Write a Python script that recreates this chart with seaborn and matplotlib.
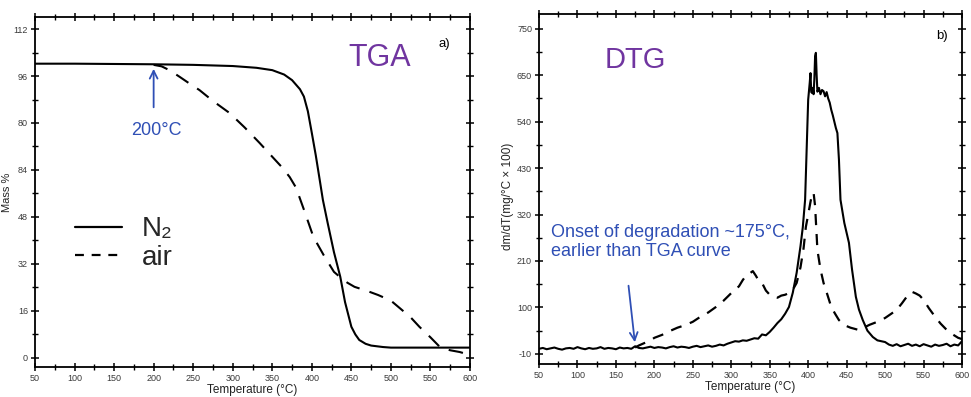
import numpy as np
import pandas as pd
import seaborn as sns
import matplotlib
matplotlib.use("Agg")
import matplotlib.pyplot as plt
from matplotlib.lines import Line2D

# ---------------- data ----------------
# TGA, N2 atmosphere (Temperature °C, mass %)
tga_n2_T = [50, 100, 150, 200, 250, 300, 330, 350, 365, 375, 385, 390, 395, 400, 405, 410, 414,
            420, 428, 436, 442, 450, 455, 460, 468, 475, 490, 500, 550, 600]
tga_n2_m = [100.2, 100.2, 100.1, 100.0, 99.8, 99.4, 98.8, 98.0, 96.5, 94.6, 91.5, 89.0, 84.0, 76.6,
            69.0, 60.6, 53.8, 46.0, 36.0, 27.6, 19.0, 10.6, 8.0, 6.1, 4.8, 4.2, 3.7, 3.5, 3.5, 3.5]
# TGA, air atmosphere
tga_air_T = [200, 210, 220, 233, 245, 258, 275, 296, 315, 334, 350, 362, 372, 380, 390, 402, 415,
             428, 437, 445, 454, 470, 484, 500, 511, 525, 536, 550, 562, 575, 587, 600]
tga_air_m = [99.8, 99.3, 98.0, 95.7, 93.5, 91.2, 87.5, 83.4, 78.5, 73.2, 68.5, 65.0, 61.6, 58.0,
             50.5, 41.2, 35.0, 29.3, 27.2, 25.6, 24.2, 22.8, 21.4, 19.5, 17.0, 13.8, 10.6, 7.0,
             3.7, 2.6, 2.0, 1.0]

# DTG, N2 atmosphere (dm/dT, mg/°C x 100)
dtg_n2_T = [50, 55, 60, 65, 70, 75, 80, 85, 90, 95, 100, 105, 110, 115, 120, 125, 130, 135, 140,
            145, 150, 155, 160, 165, 170, 175, 180, 185, 190, 195, 200, 205, 210, 215, 220, 225,
            230, 235, 240, 245, 250, 255, 260, 265, 270, 275, 280, 285, 290, 295, 300,
            305, 310, 315, 320, 325, 330, 335, 340, 345, 350, 355, 360, 365, 370, 375, 380, 385,
            390, 393, 396, 398, 400, 402, 403, 404, 405, 406, 407, 408, 409, 410, 411, 412, 414,
            416, 418, 420, 422, 424, 426, 428, 430, 432, 434, 436, 438, 440, 442, 447, 453, 457,
            462, 466, 471, 477, 484, 490, 500, 505, 510, 515, 520, 525, 530, 535, 540, 545, 550,
            555, 560, 565, 570, 575, 580, 585, 590, 595, 600]
dtg_n2_v = [2, 4, 1, 3, 5, 2, 0, 3, 4, 2, 6, 3, 1, 4, 2, 3, 6, 2, 4, 3, 1, 5, 3, 4, 2, 8, 4, 3,
            5, 7, 4, 6, 5, 3, 6, 8, 5, 7, 6, 4, 7, 9, 6, 8, 10, 7, 9, 12, 10, 14, 17,
            20, 19, 22, 21, 24, 27, 26, 36, 34, 42, 52, 63, 72, 85, 101, 135, 182,
            245, 290, 355, 470, 592, 632, 655, 610, 608, 620, 605, 640, 695, 703, 650, 611, 620,
            605, 615, 612, 600, 610, 595, 585, 568, 555, 540, 525, 513, 450, 355, 300, 253, 190,
            125, 95, 70, 45, 30, 22, 18, 12, 9, 13, 8, 11, 14, 9, 12, 8, 13, 10, 7, 12, 9,
            11, 14, 8, 12, 10, 20]
# DTG, air atmosphere
dtg_air_T = [175, 180, 185, 190, 195, 200, 210, 220, 230, 240, 250, 260, 270, 280, 290, 300, 310,
             315, 320, 325, 328, 332, 336, 340, 345, 350, 355, 360, 365, 370, 375, 380, 385, 390,
             394, 397, 400, 403, 405, 407, 409, 412, 416, 420, 425, 430, 435, 440, 447, 455, 465,
             472, 480, 490, 500, 508, 515, 522, 528, 532, 535, 540, 545, 550, 557, 565, 572, 580,
             588, 595, 600]
dtg_air_v = [5, 10, 14, 18, 22, 28, 35, 44, 52, 58, 66, 78, 88, 101, 116, 134, 150, 165, 177, 182,
             186, 175, 162, 158, 140, 130, 125, 123, 128, 130, 134, 142, 158, 195, 240, 291, 320,
             350, 368, 372, 340, 236, 190, 158, 130, 101, 85, 70, 58, 52, 47, 52, 59, 66, 75, 85,
             94, 110, 125, 132, 137, 133, 128, 118, 98, 78, 62, 47, 36, 28, 25]

x_ticks = [50, 100, 150, 200, 250, 300, 350, 400, 450, 500, 550, 600]
tga_yticks = [0, 16, 32, 48, 64, 80, 96, 112]
tga_yticklabels = ["0", "16", "32", "48", "84", "80", "96", "112"]
dtg_yticks = [-10, 100, 210, 320, 430, 540, 650, 760]
dtg_yticklabels = ["-10", "100", "210", "320", "430", "540", "650", "750"]

# ---------------- style ----------------
sns.set_theme(style="ticks")
plt.rcParams["font.family"] = ["Liberation Sans", "DejaVu Sans"]
plt.rcParams["axes.linewidth"] = 1.3

PURPLE = "#7035a0"
BLUE = "#2f4fb5"
TICKC = "#3a3a3a"

fig = plt.figure(figsize=(9.71, 3.97), dpi=100)
W, H = 971, 397


def add_ax(l, t, r, b):
    return fig.add_axes([l / W, 1 - b / H, (r - l) / W, (b - t) / H])


ax1 = add_ax(35, 17, 470, 367)
ax2 = add_ax(539, 14, 962, 364)

df_n2 = pd.DataFrame({"T": tga_n2_T, "m": tga_n2_m})
df_air = pd.DataFrame({"T": tga_air_T, "m": tga_air_m})
sns.lineplot(data=df_n2, x="T", y="m", ax=ax1, color="black", lw=1.5, sort=False)
sns.lineplot(data=df_air, x="T", y="m", ax=ax1, color="black", lw=1.5, sort=False)
ax1.lines[-1].set_dashes([7, 5])

dg_n2 = pd.DataFrame({"T": dtg_n2_T, "v": dtg_n2_v})
dg_air = pd.DataFrame({"T": dtg_air_T, "v": dtg_air_v})
sns.lineplot(data=dg_n2, x="T", y="v", ax=ax2, color="black", lw=1.5, sort=False)
sns.lineplot(data=dg_air, x="T", y="v", ax=ax2, color="black", lw=1.6, sort=False)
ax2.lines[-1].set_dashes([5, 4])


def style_axis(ax, yticks, ylabels, ylim, yminor):
    ax.set_xlim(50, 600)
    ax.set_ylim(*ylim)
    ax.set_xticks(x_ticks)
    ax.set_xticklabels([str(v) for v in x_ticks])
    ax.set_xticks(np.arange(75, 600, 50), minor=True)
    ax.set_yticks(yticks)
    ax.set_yticklabels(ylabels)
    ax.set_yticks(yminor, minor=True)
    ax.tick_params(which="both", direction="inout", top=True, right=True,
                   labeltop=False, labelright=False, colors="black",
                   labelcolor=TICKC, labelsize=6.5, pad=2)
    ax.tick_params(which="major", length=6, width=1.1)
    ax.tick_params(which="minor", length=5, width=1.0)
    for s in ax.spines.values():
        s.set_visible(True)
        s.set_color("black")
    ax.set_xlabel("Temperature (°C)", fontsize=8.5, color="#222222", labelpad=1)


style_axis(ax1, tga_yticks, tga_yticklabels, (-3.1, 116.1), np.arange(8, 112, 16))
style_axis(ax2, dtg_yticks, dtg_yticklabels, (-34, 795), np.arange(45, 760, 110))

ax1.set_ylabel("Mass %", fontsize=8, color="#222222")
ax1.yaxis.set_label_coords(-0.053, 0.5)
ax2.set_ylabel("dm/dT(mg/°C × 100)", fontsize=8.5, color="#222222")
ax2.yaxis.set_label_coords(-0.06, 0.48)

# Legend (TGA panel)
handles = [Line2D([], [], color="black", lw=1.6),
           Line2D([], [], color="black", lw=1.6, dashes=[4, 3.5])]
ax1.legend(handles, ["N\u2082", "air"], frameon=False, fontsize=20, loc="center left",
           bbox_to_anchor=(0.092, 0.352), borderaxespad=0, borderpad=0,
           handlelength=1.7, handletextpad=0.7, labelspacing=0.1)

# Annotations
ax1.text(486, 102, "TGA", color=PURPLE, fontsize=22, ha="center", va="center")
ax1.text(568, 107, "a)", color="black", fontsize=9.5, ha="center", va="center")
ax1.annotate("", xy=(200, 99.4), xytext=(200, 84.4),
             arrowprops=dict(arrowstyle="->", color=BLUE, lw=1.3, mutation_scale=14))
ax1.text(203, 77.6, "200°C", color=BLUE, fontsize=13, ha="center", va="center")

ax2.text(175, 686, "DTG", color=PURPLE, fontsize=21, ha="center", va="center")
ax2.text(574, 743, "b)", color="black", fontsize=9.5, ha="center", va="center")
ax2.text(65, 255, "Onset of degradation ~175°C,\nearlier than TGA curve", color=BLUE,
         fontsize=13, ha="left", va="center", linespacing=1.2)
ax2.annotate("", xy=(175, 11), xytext=(166, 158),
             arrowprops=dict(arrowstyle="->", color=BLUE, lw=1.3, mutation_scale=14))

fig.savefig("out.png", dpi=100)
